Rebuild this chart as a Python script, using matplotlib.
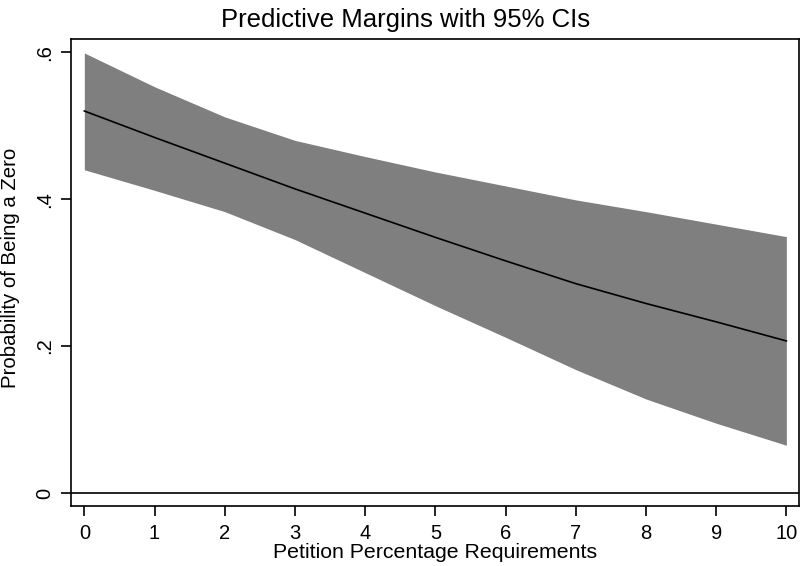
import matplotlib.pyplot as plt
import numpy as np

plt.rcParams['font.family'] = ['Liberation Sans', 'DejaVu Sans']

# predictive margins and 95% CI bounds
petition_pct = [0, 1, 2, 3, 4, 5, 6, 7, 8, 9, 10]
margin = [0.520, 0.484, 0.449, 0.414, 0.381, 0.348, 0.316, 0.285, 0.258, 0.233, 0.207]
ci_upper = [0.599, 0.553, 0.512, 0.480, 0.458, 0.437, 0.418, 0.399, 0.383, 0.366, 0.349]
ci_lower = [0.440, 0.412, 0.383, 0.345, 0.300, 0.255, 0.212, 0.168, 0.128, 0.095, 0.065]

y_ticks = [0, 0.2, 0.4, 0.6]
y_tick_labels = ['0', '.2', '.4', '.6']

fig = plt.figure(figsize=(8.01, 5.66), dpi=100)
ax = fig.add_axes([71 / 801, 1 - 506 / 566, 728 / 801, 467 / 566])

ax.fill_between(petition_pct, ci_lower, ci_upper, color='#7f7f7f', linewidth=0)
ax.plot(petition_pct, margin, color='black', linewidth=1.2)
ax.axhline(0, color='black', linewidth=1.2)

ax.set_xlim(-0.19, 10.18)
ax.set_ylim(-0.0177, 0.618)
ax.set_xticks(petition_pct)
ax.set_yticks(y_ticks)
ax.set_yticklabels(y_tick_labels, rotation=90, va='center')
ax.tick_params(axis='both', direction='out', length=7, width=1.2, labelsize=14.5,
               colors='black')
ax.tick_params(axis='x', pad=6)
ax.tick_params(axis='y', pad=5)

for s in ax.spines.values():
    s.set_linewidth(1.2)

ax.set_xlabel('Petition Percentage Requirements', fontsize=15.3, labelpad=0)
ax.set_ylabel('Probability of Being a Zero', fontsize=14.7, labelpad=6)
ax.yaxis.set_label_coords(-0.07, 0.51)
fig.text(406 / 801, 1 - 20 / 566, 'Predictive Margins with 95% CIs',
         fontsize=18.5, ha='center', va='center')

fig.savefig('out.png', dpi=100)
